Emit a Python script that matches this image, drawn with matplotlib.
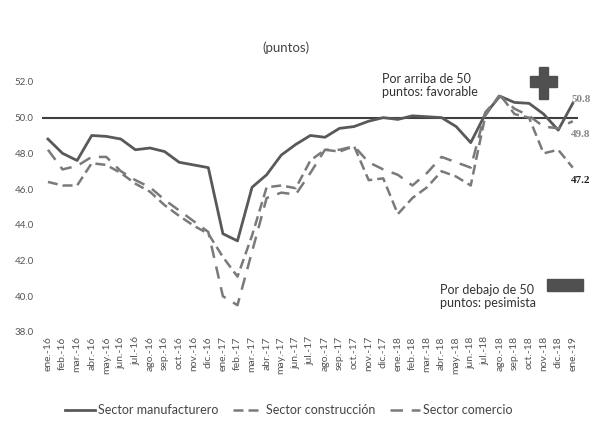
import matplotlib
matplotlib.use('Agg')
import matplotlib.pyplot as plt
from matplotlib.patches import Rectangle

plt.rcParams['font.family'] = ['Lato', 'DejaVu Sans']

meses = ['ene.', 'feb.', 'mar.', 'abr.', 'may.', 'jun.', 'jul.', 'ago.', 'sep.', 'oct.', 'nov.', 'dic.']
etiquetas = [m + '-' + a for a in ['16', '17', '18'] for m in meses] + ['ene.-19']

manufacturero = [48.8, 48.0, 47.6, 49.0, 48.95, 48.8, 48.2, 48.3, 48.1, 47.5, 47.35, 47.2,
                 43.5, 43.1, 46.1, 46.8, 47.9, 48.5, 49.0, 48.9, 49.4, 49.5, 49.8, 50.0,
                 49.9, 50.1, 50.05, 50.0, 49.5, 48.6, 50.2, 51.2, 50.85, 50.8, 50.2, 49.3,
                 50.8]
construccion = [46.4, 46.2, 46.2, 47.45, 47.35, 46.9, 46.3, 45.85, 45.1, 44.5, 43.95, 43.5,
                42.2, 41.1, 43.4, 46.1, 46.2, 46.05, 47.6, 48.2, 48.1, 48.4, 46.5, 46.6,
                44.6, 45.5, 46.1, 47.0, 46.7, 46.2, 50.1, 51.3, 50.2, 50.0, 48.0, 48.2,
                47.2]
comercio = [48.2, 47.1, 47.3, 47.8, 47.8, 47.0, 46.5, 46.1, 45.4, 44.8, 44.2, 43.6,
            40.0, 39.5, 42.5, 45.5, 45.8, 45.7, 46.9, 48.2, 48.2, 48.4, 47.5, 47.1,
            46.8, 46.2, 46.9, 47.8, 47.5, 47.2, 50.3, 51.2, 50.5, 50.1, 49.5, 49.4,
            49.8]
yticks = [38, 40, 42, 44, 46, 48, 50, 52]

x = list(range(len(etiquetas)))

fig = plt.figure(figsize=(6.04, 4.24), dpi=100)
ax = fig.add_axes([0.0695, 0.217, 0.887, 0.632])

ax.plot(x, manufacturero, color='#595959', lw=2.0, label='Sector manufacturero')
ax.plot(x, construccion, color='#7a7a7a', lw=1.8, dashes=(4, 2), label='Sector construcción')
ax.plot(x, comercio, color='#7a7a7a', lw=1.8, dashes=(5, 3.5), label='Sector comercio')
ax.axhline(50, color='#3f3f3f', lw=1.5, zorder=1)

ax.set_xlim(-0.41, 36.34)
ax.set_ylim(38, 53)
ax.set_yticks(yticks)
ax.set_yticklabels(['%.1f' % v for v in yticks], fontsize=7, color='#555555')
ax.set_xticks(x)
ax.set_xticklabels(etiquetas, rotation=90, fontsize=7.5, color='#555555')
ax.tick_params(length=0, pad=6)
ax.tick_params(axis='x', pad=3)
for s in ax.spines.values():
    s.set_visible(False)

ax.text(16.3, 53.9, '(puntos)', ha='center', va='center', fontsize=9.5, color='#444444')
ax.text(22.9, 51.8, 'Por arriba de 50\npuntos: favorable', ha='left', va='center',
        fontsize=9, color='#333333', linespacing=1.15)
ax.text(26.9, 40.0, 'Por debajo de 50\npuntos: pesimista', ha='left', va='center',
        fontsize=9, color='#333333', linespacing=1.15)

ax.text(35.9, 51.0, manufacturero[-1], fontsize=8, color='#888888', family='Liberation Serif',
        fontweight='bold', ha='left', va='center')
ax.text(35.9, 49.05, comercio[-1], fontsize=8, color='#888888', family='Liberation Serif',
        fontweight='bold', ha='left', va='center')
ax.text(35.9, 46.5, construccion[-1], fontsize=8, color='#222222', family='Liberation Serif',
        fontweight='bold', ha='left', va='center')

# signo mas y barra (en pixeles de figura)
W, H = 604.0, 424.0
def caja(x0, y0, x1, y1):
    fig.patches.append(Rectangle((x0 / W, 1 - y1 / H), (x1 - x0) / W, (y1 - y0) / H,
                                 transform=fig.transFigure, color='#505050', zorder=5))
caja(530, 76, 557, 87)
caja(539, 67, 548, 99)
caja(547, 279, 583, 291)

fig.legend(loc='center', bbox_to_anchor=(0.478, 0.032), ncol=3, frameon=False, fontsize=9,
           handlelength=2.4, handletextpad=0.2, columnspacing=1.2, labelcolor='#444444')

fig.savefig('out.png', dpi=100)
